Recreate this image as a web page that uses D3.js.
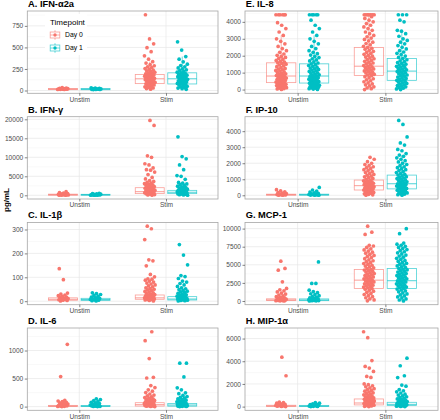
<!DOCTYPE html>
<html><head><meta charset="utf-8">
<script src="https://cdn.jsdelivr.net/npm/d3@7"></script>
<style>body{margin:0;background:#fff}svg{display:block}text{font-family:"Liberation Sans",Arial,Helvetica,sans-serif}</style>
</head><body><div id="chart"></div>
<script>
const categories = ["Unstim", "Stim"];
const timepoints = ["Day 0", "Day 1"];
const legendTitle = "Timepoint";
const yLabel = "pg/mL";
const panelTitles = ["A. IFN-α2a","B. IFN-γ","C. IL-1β","D. IL-6","E. IL-8","F. IP-10","G. MCP-1","H. MIP-1α"];
const yTicks = [[0,250,500,750],[0,5000,10000,15000,20000],[0,100,200,300],[0,500,1000],[0,1000,2000,3000,4000],[0,1000,2000,3000,4000],[0,2500,5000,7500,10000],[0,2000,4000,6000]];

// box stats [q1, median, q3] for Unstim-Day0, Unstim-Day1, Stim-Day0, Stim-Day1
const boxA = [[10,16,24],[9,15,23],[80,136,185],[76,136,205]];
const boxB = [[40,130,300],[40,110,260],[440,950,2000],[440,800,1300]];
const boxC = [[4,8,14],[3,7,12],[8,14,26],[5,9,19]];
const boxD = [[3,10,22],[3,9,20],[10,35,70],[8,28,55]];
const boxE = [[410,800,1580],[385,800,1520],[836,1380,2490],[545,1090,1830]];
const boxF = [[10,30,70],[10,30,70],[330,600,950],[400,720,1260]];
const boxG = [[60,150,300],[50,140,290],[1740,2880,4350],[1740,2800,4490]];
const boxH = [[20,60,120],[15,50,110],[150,320,675],[90,200,380]];

// A. IFN-a2a
const a_u0 = [12,13,14,15,16,17,18,19,21,23,25,28,33];
const a_u1 = [11,12,13,14,15,16,18,20,22,24,27,30];
const a_s0 = [15,22,29,36,43,50,57,64,71,78,84,90,96,102,108,114,120,126,131,136,141,146,151,156,161,166,171,176,181,186,192,198,205,212,220,228,236,245,255,265,275,287,300,318,335,364,402,451,497,542,599,879];
const a_s1 = [14,21,28,35,42,49,56,63,70,76,82,88,94,100,106,112,118,124,130,136,142,148,154,160,166,172,178,184,190,197,205,213,221,230,240,250,262,275,290,305,333,364,394,469,565];
// B. IFN-g
const b_u0 = [10,30,50,80,100,130,160,200,250,300,380,450,550,700,960];
const b_u1 = [10,25,45,70,95,120,150,190,240,300,370,450,520];
const b_s0 = [20,100,200,300,400,480,560,640,720,800,880,950,1050,1150,1250,1350,1450,1550,1650,1750,1850,2000,2150,2300,2450,2600,2750,2900,3050,3200,3400,3650,3900,4300,4700,5450,6100,6600,6750,7200,8000,8300,10000,10400,18400,19700];
const b_s1 = [15,90,170,250,330,400,470,540,610,680,750,800,870,940,1010,1080,1150,1230,1300,1400,1500,1600,1750,1900,2050,2200,2400,2600,2800,3000,3200,3400,4200,5000,5200,6750,8000,9600,10200,15400];
// C. IL-1b
const c_u0 = [1,3,4,6,7,9,11,13,15,17,20,23,26,30,34,90,136];
const c_u1 = [1,2,4,5,7,8,10,12,14,17,20,24,28,32,35];
const c_s0 = [1,3,5,7,8,9,10,11,12,13,14,15,16,18,20,22,24,26,28,30,32,35,38,41,44,47,50,53,56,60,64,68,72,76,80,84,88,92,94,102,112,148,169,173,258,303,314];
const c_s1 = [1,2,3,4,5,6,7,8,9,10,11,12,14,16,18,19,21,23,25,27,30,33,36,39,42,45,48,52,56,62,68,74,80,84,95,103,107,152,193,237];
// D. IL-6
const d_u0 = [1,3,6,10,14,18,24,30,38,46,55,65,75,88,100,110,535,1110];
const d_u1 = [1,3,5,8,12,16,22,28,35,44,54,65,78,92,108,125,140];
const d_s0 = [1,4,7,10,14,18,22,26,30,35,40,45,50,55,60,65,70,78,86,94,102,110,120,130,140,150,162,175,190,205,225,250,275,300,340,375,510,522,857,1175,1335];
const d_s1 = [1,3,6,8,11,14,17,20,24,28,32,36,40,44,48,55,62,70,78,86,95,105,115,125,138,150,165,180,200,230,245,300,335,529,775,775];
// E. IL-8
const e_u0 = [10,35,60,85,110,135,160,185,210,235,260,285,310,335,360,385,410,440,470,500,530,560,590,620,650,680,710,740,770,800,830,865,900,935,970,1010,1050,1090,1130,1170,1210,1250,1300,1350,1400,1450,1500,1550,1580,1620,1670,1720,1780,1840,1900,1960,2020,2100,2200,2300,2420,2550,2700,2850,3000,3200,3400,3600,3800,3950,4420,4420,4420,4420,4420,4420];
const e_u1 = [5,30,55,80,105,130,155,180,205,230,255,280,305,330,355,380,405,435,465,495,525,555,585,615,645,675,705,735,765,795,830,870,910,950,990,1030,1070,1110,1150,1190,1230,1270,1320,1370,1420,1470,1520,1570,1630,1690,1750,1820,1890,1960,2040,2120,2200,2300,2420,2550,2700,2850,3000,3200,3400,3600,3800,4100,4420,4420,4420,4420,4420];
const e_s0 = [0,50,100,160,220,280,340,400,460,520,580,640,700,760,820,860,900,940,980,1020,1060,1100,1140,1180,1220,1260,1300,1340,1380,1420,1470,1520,1570,1620,1670,1720,1770,1820,1870,1920,1970,2020,2080,2140,2200,2260,2320,2380,2440,2490,2560,2640,2720,2800,2880,2960,3040,3120,3200,3300,3400,3500,3600,3700,3800,3900,4000,4100,4200,4300,4420,4420,4420,4420,4420,4420,4420,4420];
const e_s1 = [0,40,80,120,160,200,240,280,320,360,400,440,480,520,545,580,620,660,700,740,780,820,860,900,940,980,1020,1060,1090,1130,1170,1210,1250,1290,1330,1370,1410,1450,1500,1550,1600,1650,1700,1760,1830,1900,1980,2060,2140,2220,2300,2400,2500,2600,2700,2800,2900,3000,3150,3300,3450,3500,4000,4100,4420,4420,4420];
// F. IP-10
const f_u0 = [2,10,20,30,45,60,80,100,130,170,220,280,350];
const f_u1 = [2,8,15,25,35,50,70,95,125,160,200,260,330,490];
const f_s0 = [5,30,60,90,120,150,180,210,240,270,300,330,355,380,405,430,455,480,505,530,555,580,600,630,660,690,720,750,780,810,840,870,900,950,1000,1050,1100,1150,1200,1250,1300,1360,1420,1480,1540,1600,1660,1720,1780,1850,1920,2000,2100,2250,2370];
const f_s1 = [5,40,75,110,145,180,215,250,285,320,360,400,430,460,490,520,550,580,610,640,670,700,720,760,800,840,880,920,960,1000,1040,1080,1120,1160,1210,1260,1310,1360,1420,1480,1540,1600,1660,1720,1780,1850,1920,2000,2080,2160,2250,2340,2430,2510,2600,2780,2860,3130,3270,3640,4420,4670];
// G. MCP-1
const g_u0 = [5,20,40,60,80,100,120,150,180,210,250,300,350,420,500,600,700,820,950,1100,1250,1400,1550,1740,2650,4260,4500,5500];
const g_u1 = [5,20,40,60,80,100,125,150,180,220,260,300,360,430,520,620,740,870,1000,1150,1300,1500,2430,2430,5400];
const g_s0 = [20,150,300,450,600,750,900,1050,1200,1350,1500,1620,1740,1830,1920,2010,2100,2190,2280,2370,2460,2550,2640,2730,2800,2880,2970,3060,3150,3240,3330,3420,3510,3600,3700,3800,3900,4000,4100,4200,4280,4350,4460,4580,4700,4820,4940,5060,5180,5300,5430,5560,5700,5850,6000,6150,6300,6450,6600,6750,6900,7050,7200,7400,7600,7700,9200,9500,10340];
const g_s1 = [10,140,280,420,560,700,840,980,1120,1260,1400,1520,1640,1740,1830,1920,2010,2100,2190,2280,2370,2460,2550,2640,2720,2800,2890,2980,3070,3160,3250,3340,3430,3520,3610,3700,3800,3900,4000,4100,4200,4300,4400,4490,4600,4720,4840,4960,5080,5200,5330,5460,5600,5750,5900,6050,6200,6350,6500,6650,6800,6950,7100,7250,7400,7550,7700,7850,8000,9300,9990];
// H. MIP-1a
const h_u0 = [5,20,40,60,80,100,130,160,200,250,300,350,400,2720,4360];
const h_u1 = [5,15,30,50,70,90,115,140,170,210,250,300,350];
const h_s0 = [5,30,60,90,120,150,180,210,240,270,300,320,350,380,410,440,470,500,530,560,590,620,650,675,720,770,820,870,920,980,1040,1100,1160,1220,1290,1360,1430,1500,1580,1660,1750,1840,1930,2000,2570,2660,3100,3400,3540,4060,6080,6600];
const h_s1 = [5,20,40,60,75,90,105,120,135,150,165,180,200,220,240,260,280,300,320,340,360,380,410,440,480,520,570,620,680,740,800,870,940,1020,1100,1200,1300,1400,1500,1800,1900,2560,2720,3600,4270];

const panels = [
  {boxes: boxA, groups: [a_u0, a_u1, a_s0, a_s1]},
  {boxes: boxB, groups: [b_u0, b_u1, b_s0, b_s1]},
  {boxes: boxC, groups: [c_u0, c_u1, c_s0, c_s1]},
  {boxes: boxD, groups: [d_u0, d_u1, d_s0, d_s1]},
  {boxes: boxE, groups: [e_u0, e_u1, e_s0, e_s1]},
  {boxes: boxF, groups: [f_u0, f_u1, f_s0, f_s1]},
  {boxes: boxG, groups: [g_u0, g_u1, g_s0, g_s1]},
  {boxes: boxH, groups: [h_u0, h_u1, h_s0, h_s1]}
];

const W = 440, H = 420;
const colX = [[27.3, 218], [245, 438]];
const rowTop = [11, 116.7, 222.4, 328];
const panelH = 82.3;
const colors = ["#F8766D", "#00BFC4"];
const R = 1.85;

const svg = d3.select("#chart").append("svg").attr("width", W).attr("height", H);
svg.append("rect").attr("width", W).attr("height", H).attr("fill", "#fff");

panels.forEach((p, pi) => {
  const col = Math.floor(pi / 4), row = pi % 4;
  const [x0, x1] = colX[col];
  const y0 = rowTop[row], y1 = y0 + panelH;
  const x = d3.scalePoint().domain(categories).range([x0, x1]).padding(0.6);
  const step = x.step();
  const all = p.groups.flat();
  const [mn, mx] = d3.extent(all);
  const pad = (mx - mn) * 0.05;
  const y = d3.scaleLinear().domain([mn - pad, mx + pad]).range([y1, y0]);
  const ticks = yTicks[pi];
  const g = svg.append("g");

  // grid
  const st = ticks[1] - ticks[0];
  const minors = [];
  ticks.forEach(t => { if (t + st / 2 <= mx + pad) minors.push(t + st / 2); });
  if (ticks[0] - st / 2 >= mn - pad) minors.push(ticks[0] - st / 2);
  g.selectAll(".mn").data(minors).join("line")
    .attr("x1", x0).attr("x2", x1).attr("y1", d => y(d)).attr("y2", d => y(d))
    .attr("stroke", "#f3f3f3").attr("stroke-width", 0.5);
  g.selectAll(".mj").data(ticks).join("line")
    .attr("x1", x0).attr("x2", x1).attr("y1", d => y(d)).attr("y2", d => y(d))
    .attr("stroke", "#e6e6e6").attr("stroke-width", 0.7);
  g.selectAll(".vx").data(categories).join("line")
    .attr("x1", d => x(d)).attr("x2", d => x(d)).attr("y1", y0).attr("y2", y1)
    .attr("stroke", "#e6e6e6").attr("stroke-width", 0.7);

  // legend in first panel
  if (pi === 0) {
    const lg = g.append("g");
    lg.append("rect").attr("x", 45).attr("y", 14).attr("width", 42).attr("height", 41).attr("fill", "#fff");
    lg.append("text").attr("x", 50).attr("y", 25).attr("font-size", 8).attr("fill", "#000").text(legendTitle);
    timepoints.forEach((tp, k) => {
      const cy = 35 + k * 13, kx = 49, kw = 12, kh = 12, top = cy - kh / 2;
      const c = colors[k];
      lg.append("line").attr("x1", kx + kw / 2).attr("x2", kx + kw / 2).attr("y1", top + kh * 0.1).attr("y2", top + kh * 0.9)
        .attr("stroke", c).attr("stroke-opacity", 0.7).attr("stroke-width", 0.8);
      lg.append("rect").attr("x", kx + kw * 0.1).attr("y", top + kh * 0.25).attr("width", kw * 0.8).attr("height", kh * 0.5)
        .attr("fill", "#fff").attr("stroke", c).attr("stroke-opacity", 0.7).attr("stroke-width", 0.8);
      lg.append("line").attr("x1", kx + kw * 0.1).attr("x2", kx + kw * 0.9).attr("y1", cy).attr("y2", cy)
        .attr("stroke", c).attr("stroke-opacity", 0.7).attr("stroke-width", 0.8);
      lg.append("circle").attr("cx", kx + kw / 2).attr("cy", cy).attr("r", 1.7).attr("fill", c);
      lg.append("text").attr("x", 65).attr("y", cy + 2.4).attr("font-size", 6.8).attr("fill", "#000").text(tp);
    });
  }

  // boxes
  p.groups.forEach((vals, gi) => {
    const cat = categories[gi >> 1], tp = gi & 1;
    const cx = x(cat) + (tp ? 1 : -1) * 0.1875 * step;
    const hw = 0.167 * step;
    const [q1, med, q3] = p.boxes[gi];
    const iqr = q3 - q1;
    const hi = d3.max(vals.filter(v => v <= q3 + 1.5 * iqr));
    const lo = d3.min(vals.filter(v => v >= q1 - 1.5 * iqr));
    const c = colors[tp];
    const bg = g.append("g").attr("stroke", c).attr("stroke-opacity", 0.7).attr("stroke-width", 0.8);
    bg.append("line").attr("x1", cx).attr("x2", cx).attr("y1", y(q3)).attr("y2", y(hi));
    bg.append("line").attr("x1", cx).attr("x2", cx).attr("y1", y(q1)).attr("y2", y(lo));
    bg.append("rect").attr("x", cx - hw).attr("y", y(q3)).attr("width", 2 * hw).attr("height", Math.max(0.5, y(q1) - y(q3)))
      .attr("fill", "#fff").attr("fill-opacity", 0.6);
    bg.append("line").attr("x1", cx - hw).attr("x2", cx + hw).attr("y1", y(med)).attr("y2", y(med)).attr("stroke-width", 1);
  });

  // points (deterministic jitter within the dodge slot)
  p.groups.forEach((vals, gi) => {
    const cat = categories[gi >> 1], tp = gi & 1;
    const cx = x(cat) + (tp ? 1 : -1) * 0.1875 * step;
    const jw = 0.062 * step;
    g.append("g").selectAll("circle").data(vals).join("circle")
      .attr("cx", (v, i) => cx + (((i * 0.618034 + gi * 0.29 + pi * 0.13) % 1) - 0.5) * 2 * jw)
      .attr("cy", v => y(v)).attr("r", R).attr("fill", colors[tp]);
  });

  // border
  g.append("rect").attr("x", x0).attr("y", y0).attr("width", x1 - x0).attr("height", panelH)
    .attr("fill", "none").attr("stroke", "#a6a6a6").attr("stroke-width", 0.8);

  // axes
  const ya = g.append("g").attr("transform", `translate(${x0},0)`)
    .call(d3.axisLeft(y).tickValues(ticks).tickSize(2.5).tickPadding(1.5).tickFormat(d3.format("d")));
  const xa = g.append("g").attr("transform", `translate(0,${y1})`)
    .call(d3.axisBottom(x).tickSize(2.5).tickPadding(1.2));
  [ya, xa].forEach(a => {
    a.select(".domain").remove();
    a.selectAll(".tick line").attr("stroke", "#333").attr("stroke-width", 0.6);
    a.selectAll(".tick text").attr("fill", "#4d4d4d").attr("font-size", 6.6)
      .attr("font-family", '"Liberation Sans",Arial,Helvetica,sans-serif');
  });

  // title
  g.append("text").attr("x", x0 + 0.7).attr("y", y0 - 4).attr("font-size", 9.3).attr("font-weight", "bold")
    .attr("fill", "#000").text(panelTitles[pi]);
});

svg.append("text").attr("transform", "translate(8.5,200) rotate(-90)").attr("text-anchor", "middle")
  .attr("font-size", 8).attr("font-weight", "bold").attr("fill", "#000").text(yLabel);
</script>
</body></html>
